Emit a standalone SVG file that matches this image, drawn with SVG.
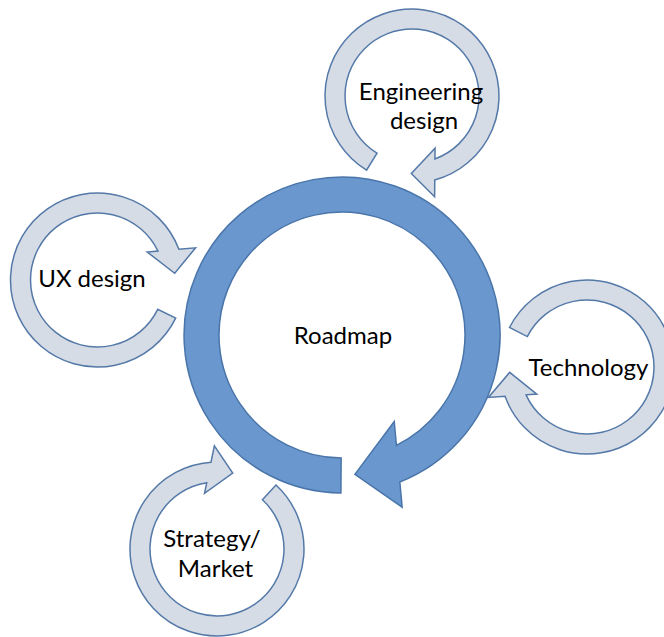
<svg xmlns="http://www.w3.org/2000/svg" xmlns:xlink="http://www.w3.org/1999/xlink" width="664" height="637" viewBox="0 0 664 637">
  <style>
    .small { fill: #D6DCE5; stroke: #5479A8; stroke-width: 1.5; stroke-linejoin: miter; }
    .main { fill: #6A98CE; stroke: #4A75AA; stroke-width: 1.5; stroke-linejoin: miter; }
    .lbl { font-family: Lato, "Liberation Sans", Arial, sans-serif; font-size: 24px; fill: #000000; text-anchor: middle; }
  </style>
  <defs>
    <path id="smallArrow" d="M 74.57,44.81 A 87 87 0 1 1 83.77,-23.5 L 100.5,-23.5 L 77.5,0 L 52,-23.5 L 62.75,-23.5 A 67 67 0 1 0 57.43,34.51 Z"/>
  </defs>
  <rect width="664" height="637" fill="#FFFFFF"/>

  <g id="engineering-design">
    <use xlink:href="#smallArrow" class="small" transform="translate(412,96) rotate(90.5)"/>
    <text class="lbl" x="421" y="100">Engineering</text>
    <text class="lbl" x="424" y="129">design</text>
  </g>

  <g id="ux-design">
    <use xlink:href="#smallArrow" class="small" transform="translate(97.5,280) rotate(-5)"/>
    <text class="lbl" x="92" y="287">UX design</text>
  </g>

  <g id="technology">
    <use xlink:href="#smallArrow" class="small" transform="translate(587,367) rotate(176)"/>
    <text class="lbl" x="588.5" y="376">Technology</text>
  </g>

  <g id="strategy-market">
    <use xlink:href="#smallArrow" class="small" transform="translate(217,549) rotate(-78.3)"/>
    <text class="lbl" x="212" y="547">Strategy/</text>
    <text class="lbl" x="215.5" y="577">Market</text>
  </g>

  <g id="roadmap">
    <path class="main" transform="translate(342,335) rotate(84.7)" d="M 157.2,15.69 A 158 158 0 1 1 151.75,-44 L 177,-44 L 140,0 L 91,-44 L 114.86,-44 A 123 123 0 1 0 122.39,12.22 Z"/>
    <text class="lbl" x="343" y="344">Roadmap</text>
  </g>
</svg>
